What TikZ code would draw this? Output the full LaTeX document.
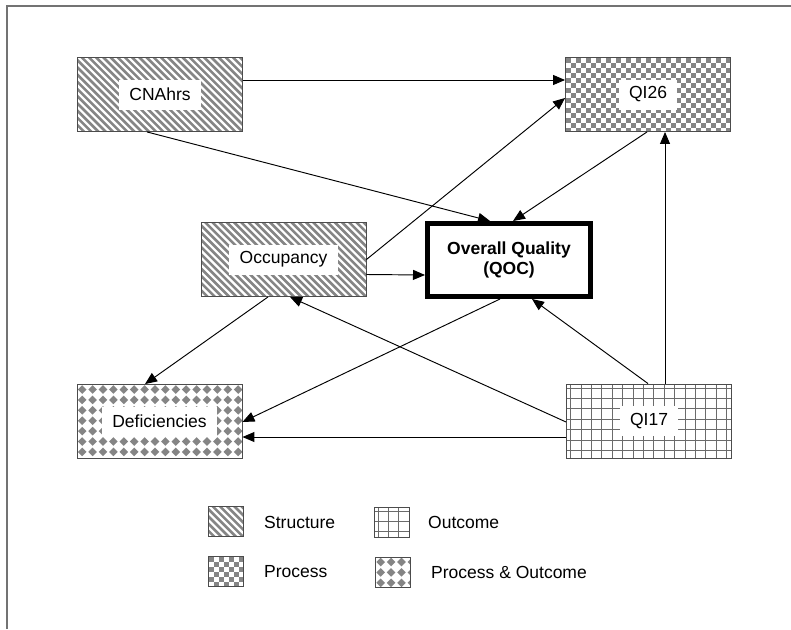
\documentclass[tikz,border=0pt]{standalone}
\usepackage{fontspec}
\setmainfont{Liberation Sans}
\usetikzlibrary{arrows.meta}
\definecolor{patgray}{gray}{0.52}
\definecolor{gridgray}{gray}{0.42}
\definecolor{bordergray}{gray}{0.3}
\definecolor{framegray}{gray}{0.45}
\tikzset{
  basefont/.style={font=\fontsize{17.5}{20}\selectfont},
  box/.style={draw=bordergray, line width=0.9pt, minimum width=165pt, minimum height=74pt, inner sep=0pt},
  swatch/.style={draw=bordergray, line width=0.9pt, minimum width=35pt, minimum height=30pt, inner sep=0pt},
  lab/.style={basefont, fill=white, inner xsep=10.5pt, inner ysep=0pt, minimum height=30pt},
  legtext/.style={basefont, anchor=west, inner sep=0pt},
  qocbox/.style={draw=black, fill=white, line width=5pt, minimum width=163pt, minimum height=73pt, align=center, font=\bfseries\fontsize{17.5}{20}\selectfont},
  conn/.style={-{Triangle[length=12pt,width=10pt]}, line width=0.95pt, black},
  structure/.style={path picture={
      \foreach \i in {-84,-76.8,...,180}
        \draw[patgray, line width=2.6pt] ([xshift=\i pt, yshift=2pt]path picture bounding box.north west) -- ++(92pt,-92pt);
    }},
  process/.style={path picture={
      \foreach \j in {0,...,16} \foreach \i in {0,...,34} {%
        \pgfmathsetmacro\xx{\i*5}\pgfmathsetmacro\yy{-\j*5}%
        \ifodd\numexpr\i+\j\relax\else
          \fill[patgray] ([xshift=\xx pt, yshift=\yy pt]path picture bounding box.north west) rectangle ++(5pt,-5pt);
        \fi}
    }},
  outcome/.style={path picture={
      \foreach \i in {0,...,16} {\pgfmathsetmacro\xx{\i*10.4+4}%
        \draw[gridgray, line width=0.8pt] ([xshift=\xx pt, yshift=2pt]path picture bounding box.north west) -- ++(0pt,-100pt);}
      \foreach \j in {0,...,8} {\pgfmathsetmacro\yy{-\j*10.4-4}%
        \draw[gridgray, line width=0.8pt] ([xshift=-2pt, yshift=\yy pt]path picture bounding box.north west) -- ++(200pt,0pt);}
    }},
  procout/.style={path picture={
      \foreach \j in {0,...,8} \foreach \i in {0,...,16} {%
        \pgfmathsetmacro\xx{\i*10.4+0.9}\pgfmathsetmacro\yy{-\j*10.4-5}%
        \fill[patgray] ([xshift=\xx pt, yshift=\yy pt]path picture bounding box.north west) -- ++(4.3pt,4.3pt) -- ++(4.3pt,-4.3pt) -- ++(-4.3pt,-4.3pt) -- cycle;}
    }},
}
\begin{document}
\begin{tikzpicture}[x=1pt,y=-1pt]
\useasboundingbox (0,0) rectangle (791,629);
\fill[white] (0,0) rectangle (791,629);
\draw[framegray, line width=1.6pt] (7,629) -- (7,6) -- (791,6);

% boxes
\node[box, structure] (cna) at (160,94.5) {};
\node[lab] (cnaL) at (cna) {CNAhrs};
\node[box, process] (qi26) at (648,94.5) {};
\node[lab] (qi26L) at (qi26) {QI26};
\node[box, structure] (occ) at (283.5,259.5) {};
\node[lab] (occL) at (occ) {Occupancy};
\node[qocbox] (qoc) at (509,260) {Overall Quality\\(QOC)};
\node[box, procout] (def) at (159.5,421.5) {};
\node[lab] (defL) at (def) {Deficiencies};
\node[box, outcome] (qi17) at (649,421) {};
\node[lab] (qi17L) at (qi17) {QI17};

% connectors
\draw[conn] ([yshift=14.5pt]cna.east) -- ([yshift=14.5pt]qi26.west);
\draw[conn] ([xshift=-13pt]cna.south) -- ([xshift=-19pt]qoc.north);
\draw[conn] ([xshift=-1pt]qi26.south) -- ([xshift=4pt]qoc.north);
\draw[conn] (occ.east) -- ([yshift=-3.5pt]qi26.west);
\draw[conn] ([yshift=-15pt]occ.east) -- ([yshift=-15pt]qoc.west);
\draw[conn] ([xshift=-15.5pt]occ.south) -- ([xshift=-14.5pt]def.north);
\draw[conn] ([xshift=-9pt]qoc.south) -- ([yshift=-0.5pt]def.east);
\draw[conn] ([xshift=-1pt]qi17.north) -- ([xshift=23pt]qoc.south);
\draw[conn] ([xshift=16pt]qi17.north) -- ([xshift=17pt]qi26.south);
\draw[conn] ([yshift=-1pt]qi17.west) -- ([xshift=6.5pt]occ.south);
\draw[conn] ([yshift=-16pt]qi17.west) -- ([yshift=-15.5pt]def.east);

% legend
\node[swatch, structure] (lgS) at (226,521.5) {};
\node[legtext] (lgSt) at (264,522) {Structure};
\node[swatch, outcome] (lgO) at (391.5,522) {};
\node[legtext] (lgOt) at (428,522) {Outcome};
\node[swatch, process] (lgP) at (226,571.5) {};
\node[legtext] (lgPt) at (264,572) {Process};
\node[swatch, procout] (lgPO) at (393,572) {};
\node[legtext] (lgPOt) at (431,572) {Process \& Outcome};
\end{tikzpicture}
\end{document}
